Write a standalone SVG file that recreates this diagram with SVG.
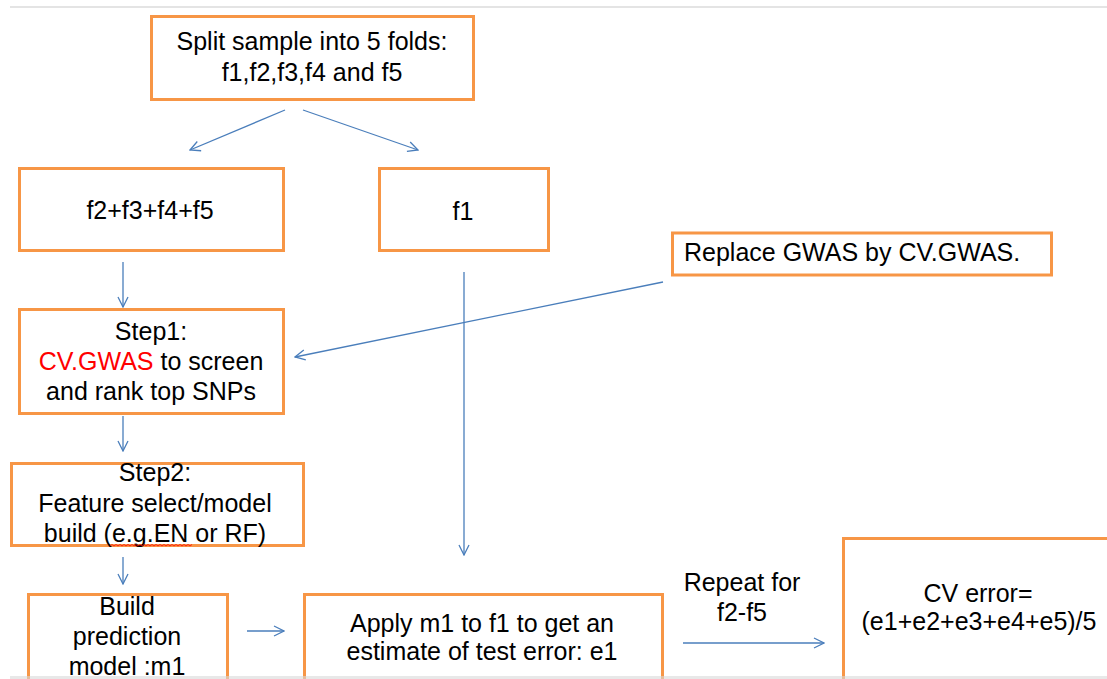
<svg xmlns="http://www.w3.org/2000/svg" width="1107" height="679" viewBox="0 0 1107 679">
<defs>
<style>
.box{fill:#fff;stroke:#F79646;stroke-width:3}
.t{font-family:"Liberation Sans",Arial,sans-serif;font-size:25px;fill:#000;text-anchor:middle}
.tl{font-family:"Liberation Sans",Arial,sans-serif;font-size:25px;fill:#000}
.red{fill:#FF0000}
.c{fill:none;stroke:#4A7EBB;stroke-width:1.3}
</style>
<marker id="ah" viewBox="0 0 12 12" markerWidth="12" markerHeight="12" refX="11" refY="6" orient="auto" markerUnits="userSpaceOnUse">
<path d="M1,1 L11,6 L1,11" fill="none" stroke="#4A7EBB" stroke-width="1.3"/>
</marker>
</defs>
<rect width="1107" height="679" fill="#fff"/>
<line x1="10" y1="7" x2="1107" y2="7" stroke="#e4e4e4" stroke-width="2"/>

<g id="node-split">
<rect class="box" x="151.5" y="16.5" width="322" height="83"/>
<text class="t" x="312" y="50">Split sample into 5 folds:</text>
<text class="t" x="312" y="81">f1,f2,f3,f4 and f5</text>
</g>

<g id="node-train">
<rect class="box" x="19.5" y="168.5" width="264" height="82"/>
<text class="t" x="150" y="219">f2+f3+f4+f5</text>
</g>

<g id="node-f1">
<rect class="box" x="379.5" y="168.5" width="169" height="82"/>
<text class="t" x="463" y="220">f1</text>
</g>

<g id="node-replace">
<rect class="box" x="672.5" y="233" width="379" height="42"/>
<text class="tl" x="684" y="261">Replace GWAS by CV.GWAS.</text>
</g>

<g id="node-step1">
<rect class="box" x="19.5" y="309.5" width="264" height="104"/>
<text class="t" x="151" y="340">Step1:</text>
<text class="t" x="151" y="370"><tspan class="red">CV.GWAS</tspan> to screen</text>
<text class="t" x="151" y="400">and rank top SNPs</text>
</g>

<g id="node-step2">
<rect class="box" x="11.5" y="463.5" width="292" height="82"/>
<text class="t" x="155" y="481">Step2:</text>
<text class="t" x="155" y="512">Feature select/model</text>
<text class="t" x="155" y="542">build (e.g.EN or RF)</text>
<path d="M110,546 l2,-1.5 l2,1.5 l2,-1.5 l2,1.5 l2,-1.5 l2,1.5 l2,-1.5 l2,1.5 l2,-1.5 l2,1.5 l2,-1.5 l2,1.5 l2,-1.5 l2,1.5 l2,-1.5 l2,1.5 l2,-1.5 l2,1.5 l2,-1.5 l2,1.5 l2,-1.5 l2,1.5 l2,-1.5 l2,1.5 l2,-1.5 l2,1.5 l2,-1.5 l2,1.5 l2,-1.5 l2,1.5 l2,-1.5 l2,1.5 l2,-1.5 l2,1.5 l2,-1.5 l2,1.5 l2,-1.5 l2,1.5 l2,-1.5 l2,1.5 l2,-1.5" fill="none" stroke="#FF0000" stroke-width="0.8"/>
</g>

<g id="node-build">
<rect class="box" x="28.5" y="594.5" width="199" height="100"/>
<text class="t" x="127" y="615">Build</text>
<text class="t" x="127" y="645">prediction</text>
<text class="t" x="127" y="675">model :m1</text>
</g>

<g id="node-apply">
<rect class="box" x="304.5" y="594.5" width="358" height="100"/>
<text class="t" x="482" y="632">Apply m1 to f1 to get an</text>
<text class="t" x="482" y="660">estimate of test error: e1</text>
</g>

<g id="node-cv">
<rect class="box" x="843.5" y="538.5" width="280" height="160"/>
<text class="t" x="978" y="602">CV error=</text>
<text class="t" x="979" y="630">(e1+e2+e3+e4+e5)/5</text>
</g>

<g id="label-repeat">
<text class="t" x="742" y="591">Repeat for</text>
<text class="t" x="742" y="621">f2-f5</text>
</g>

<g id="connectors">
<line class="c" x1="285" y1="110" x2="190" y2="150" marker-end="url(#ah)"/>
<line class="c" x1="303" y1="110" x2="418" y2="150" marker-end="url(#ah)"/>
<line class="c" x1="123" y1="262" x2="123" y2="307" marker-end="url(#ah)"/>
<line class="c" x1="123" y1="416" x2="123" y2="451" marker-end="url(#ah)"/>
<line class="c" x1="123" y1="557" x2="123" y2="584" marker-end="url(#ah)"/>
<line class="c" x1="464" y1="272" x2="464" y2="555" marker-end="url(#ah)"/>
<line class="c" x1="663" y1="282" x2="295" y2="357" marker-end="url(#ah)"/>
<line class="c" x1="247" y1="631" x2="284" y2="631" marker-end="url(#ah)"/>
<line class="c" x1="683" y1="643" x2="824" y2="643" marker-end="url(#ah)"/>
</g>
<rect x="10" y="676" width="1097" height="3" fill="#d8d8d8" opacity="0.6"/>
</svg>
